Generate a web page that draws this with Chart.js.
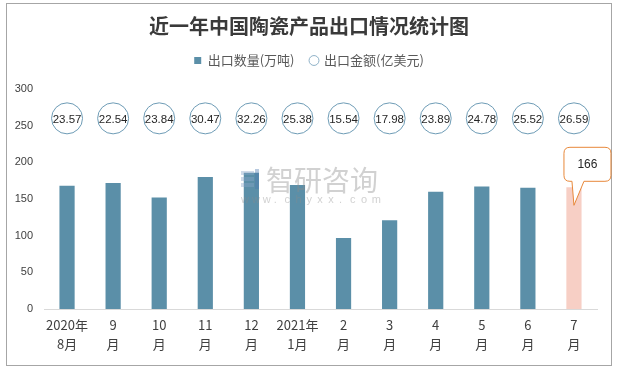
<!DOCTYPE html>
<html>
<head>
<meta charset="utf-8">
<script src="https://cdn.jsdelivr.net/npm/chart.js@4/dist/chart.umd.min.js"></script>
<style>
html,body{margin:0;padding:0;background:#fff;}
canvas{display:block;}
</style>
</head>
<body>
<canvas id="c" width="618" height="369"></canvas>
<script>
// ---- data ----
const months = [['2020年','8月'],['9','月'],['10','月'],['11','月'],['12','月'],['2021年','1月'],['2','月'],['3','月'],['4','月'],['5','月'],['6','月'],['7','月']];
const volume = [168, 172, 152, 180, 186, 169, 97, 121, 160, 167, 165.5, 166];   // 出口数量(万吨)
const amount = [23.57, 22.54, 23.84, 30.47, 32.26, 25.38, 15.54, 17.98, 23.89, 24.78, 25.52, 26.59]; // 出口金额(亿美元)
const yTicks = [0, 50, 100, 150, 200, 250, 300];
const amountRowLevel = 260; // height of the amount label row on the left axis
const titleText = '近一年中国陶瓷产品出口情况统计图';
const volumeName = '出口数量(万吨)';
const amountName = '出口金额(亿美元)';

const BAR = '#5b8fa8';
const BAR_HI = '#f7cfc5';
const CIRCLE = '#6e9cb6';
const FONT = "'Liberation Sans','Noto Sans CJK SC',sans-serif";
const CJK = "'Noto Sans CJK SC',sans-serif";

const frame = {
  id: 'frame',
  beforeDraw(chart) {
    const c = chart.ctx;
    c.save();
    c.fillStyle = '#fff';
    c.fillRect(0, 0, chart.width, chart.height);
    c.strokeStyle = '#a6a6a6';
    c.lineWidth = 1;
    c.strokeRect(6.5, 3.5, 605, 362);
    c.restore();
  }
};

const legendSpace = {
  id: 'legendSpace',
  beforeInit(chart) {
    const orig = chart.legend.fit;
    chart.legend.fit = function () { orig.call(this); this.height += 12; };
  }
};

const circleLabels = {
  id: 'circleLabels',
  afterDatasetsDraw(chart) {
    const c = chart.ctx;
    const meta = chart.getDatasetMeta(1);
    c.save();
    c.font = "11.5px " + FONT;
    c.fillStyle = '#262626';
    c.textAlign = 'center';
    c.textBaseline = 'middle';
    meta.data.forEach((pt, i) => {
      c.fillText(amount[i].toFixed(2), pt.x, pt.y + 1);
    });
    // callout for the last bar
    const bm = chart.getDatasetMeta(0);
    const last = bm.data[bm.data.length - 1];
    const bx = last.x, by = last.y;
    const L = bx - 10, R = bx + 37, T = by - 40, B = by - 6, r = 6;
    const tipX = bx, tipY = by + 18;
    c.beginPath();
    c.moveTo(L + r, T);
    c.lineTo(R - r, T);
    c.quadraticCurveTo(R, T, R, T + r);
    c.lineTo(R, B - r);
    c.quadraticCurveTo(R, B, R - r, B);
    c.lineTo(bx + 10, B);
    c.lineTo(tipX, tipY);
    c.lineTo(bx - 2, B);
    c.lineTo(L + r, B);
    c.quadraticCurveTo(L, B, L, B - r);
    c.lineTo(L, T + r);
    c.quadraticCurveTo(L, T, L + r, T);
    c.closePath();
    c.fillStyle = '#fff';
    c.fill();
    c.strokeStyle = '#e8883a';
    c.lineWidth = 1;
    c.stroke();
    c.fillStyle = '#262626';
    c.font = "12px " + FONT;
    c.fillText(String(volume[volume.length - 1]), (L + R) / 2, (T + B) / 2);
    c.restore();
  },
  afterDraw(chart) {
    // watermark
    const c = chart.ctx;
    c.save();
    c.globalAlpha = 0.4;
    c.fillStyle = '#8aa6c8';
    c.fillRect(241, 171, 13, 4);
    c.fillRect(241, 177, 13, 4);
    c.fillRect(241, 183, 13, 4);
    c.fillStyle = '#4a78b0';
    c.fillRect(255, 169, 4, 20);
    c.fillStyle = '#8c8c8c';
    c.font = "28px " + CJK;
    c.textBaseline = 'middle';
    c.textAlign = 'left';
    c.fillText('智研咨询', 266, 180);
    c.font = "11px " + FONT;
    const s = 'www.chyxx.com';
    for (let i = 0; i < s.length; i++) c.fillText(s[i], 241 + i * 10.9, 200);
    c.restore();
  }
};

new Chart(document.getElementById('c'), {
  data: {
    labels: months,
    datasets: [
      {
        type: 'bar',
        label: volumeName,
        data: volume,
        backgroundColor: ctx => ctx.dataIndex === volume.length - 1 ? BAR_HI : BAR,
        barPercentage: 0.33,
        categoryPercentage: 1.0,
        order: 2
      },
      {
        type: 'line',
        label: amountName,
        data: amount.map(() => amountRowLevel),
        showLine: false,
        pointRadius: 15.5,
        pointHoverRadius: 15.5,
        pointBackgroundColor: '#fff',
        pointBorderColor: CIRCLE,
        pointBorderWidth: 1,
        order: 1
      }
    ]
  },
  options: {
    responsive: false,
    animation: false,
    events: [],
    layout: { padding: { left: 0, right: 0, top: 0, bottom: 9 } },
    plugins: {
      tooltip: { enabled: false },
      title: {
        display: true,
        text: titleText,
        color: '#3a3a3a',
        font: { family: CJK, size: 20, weight: 'bold' },
        padding: { top: 14, bottom: 0 }
      },
      legend: {
        display: true,
        labels: {
          usePointStyle: true,
          boxWidth: 7,
          boxHeight: 7,
          padding: 16,
          color: '#595959',
          font: { family: CJK, size: 13 },
          generateLabels: () => [
            { text: volumeName, fillStyle: BAR, strokeStyle: BAR, lineWidth: 0, pointStyle: 'rect', datasetIndex: 0, fontColor: '#595959' },
            { text: amountName, fillStyle: '#fff', strokeStyle: '#8fb2c8', lineWidth: 1, pointStyle: 'circle', datasetIndex: 1, fontColor: '#595959' }
          ]
        }
      }
    },
    scales: {
      x: {
        grid: { display: false, drawTicks: false },
        border: { display: true, color: '#d9d9d9', width: 1 },
        ticks: {
          color: '#404040',
          padding: 7,
          maxRotation: 0,
          autoSkip: false,
          font: { family: CJK, size: 13, lineHeight: 1.42 }
        }
      },
      y: {
        min: 0,
        max: 300,
        afterBuildTicks: s => { s.ticks = yTicks.map(v => ({ value: v })); },
        afterFit: s => { s.width = 44; },
        grid: { display: false, drawTicks: false },
        border: { display: false },
        ticks: {
          color: '#404040',
          padding: 11,
          font: { family: FONT, size: 11 }
        }
      },
      yR: {
        position: 'right',
        display: true,
        afterFit: s => { s.width = 21; },
        grid: { display: false, drawTicks: false },
        border: { display: false },
        ticks: { display: false }
      }
    }
  },
  plugins: [frame, legendSpace, circleLabels]
});
</script>
</body>
</html>
